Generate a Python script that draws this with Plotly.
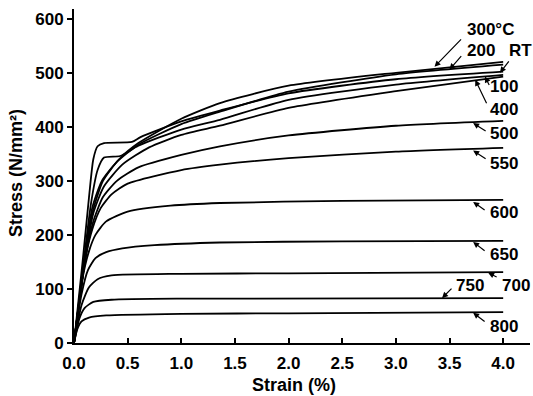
import plotly.graph_objects as go

# ---- data (strain %, stress N/mm^2) ----
labels = ["RT", "100", "200", "300°C", "400", "500", "550", "600", "650", "700", "750", "800"]

strain_RT = [0, 0.08, 0.14, 0.18, 0.22, 0.28, 0.54, 0.62, 1.0, 1.36, 2.0, 3.0, 4.0]
stress_RT = [0, 150, 270, 340, 364, 370, 372, 381, 410, 430, 462, 488, 502]

strain_100 = [0, 0.09, 0.16, 0.22, 0.28, 0.43, 0.6, 1.0, 1.36, 2.0, 3.0, 4.0]
stress_100 = [0, 150, 260, 320, 343, 346, 365, 395, 413, 450, 478, 496]

strain_200 = [0, 0.1, 0.17, 0.26, 0.4, 0.6, 1.0, 1.36, 2.0, 3.0, 4.0]
stress_200 = [0, 155, 250, 300, 335, 367, 405, 428, 465, 497, 515]

strain_300 = [0, 0.1, 0.17, 0.27, 0.42, 0.6, 1.0, 1.36, 2.0, 3.0, 4.0]
stress_300 = [0, 150, 240, 300, 340, 370, 415, 444, 476, 500, 520]

strain_400 = [0, 0.1, 0.18, 0.28, 0.45, 0.7, 1.0, 1.36, 2.0, 3.0, 4.0]
stress_400 = [0, 150, 240, 290, 330, 362, 385, 402, 435, 466, 493]

strain_500 = [0, 0.1, 0.18, 0.27, 0.4, 0.6, 1.0, 1.36, 2.0, 3.0, 4.0]
stress_500 = [0, 150, 225, 270, 300, 325, 348, 364, 384, 402, 411]

strain_550 = [0, 0.1, 0.17, 0.25, 0.35, 0.5, 1.0, 1.36, 2.0, 3.0, 4.0]
stress_550 = [0, 150, 210, 250, 275, 295, 320, 330, 342, 354, 361]

strain_600 = [0, 0.08, 0.14, 0.2, 0.3, 0.5, 0.9, 1.36, 2.5, 4.0]
stress_600 = [0, 120, 170, 200, 225, 243, 254, 259, 263, 265]

strain_650 = [0, 0.07, 0.13, 0.2, 0.3, 0.45, 0.75, 1.36, 2.5, 4.0]
stress_650 = [0, 90, 135, 157, 168, 175, 181, 186, 188, 189]

strain_700 = [0, 0.07, 0.14, 0.22, 0.35, 1.0, 2.0, 4.0]
stress_700 = [0, 70, 103, 118, 125, 128, 129, 131]

strain_750 = [0, 0.05, 0.1, 0.18, 0.35, 1.0, 4.0]
stress_750 = [0, 45, 65, 76, 80, 82, 83]

strain_800 = [0, 0.03, 0.07, 0.14, 0.3, 1.0, 2.0, 4.0]
stress_800 = [0, 25, 40, 47, 51, 54, 55, 57]

curves = [
    (strain_RT, stress_RT), (strain_100, stress_100), (strain_200, stress_200),
    (strain_300, stress_300), (strain_400, stress_400), (strain_500, stress_500),
    (strain_550, stress_550), (strain_600, stress_600), (strain_650, stress_650),
    (strain_700, stress_700), (strain_750, stress_750), (strain_800, stress_800),
]

# label annotation: arrow head (data), arrow tail offset (px), text position (data)
head_x = [3.97, 3.83, 3.50, 3.36, 3.74, 3.72, 3.72, 3.72, 3.72, 3.86, 3.43, 3.72]
head_y = [500, 493, 506, 511, 487, 407, 356, 261, 187, 130, 83, 56]
tail_dx = [10, 5, 13, 28, 12, 14, 14, 13, 13, 10, 11, 13]
tail_dy = [-13, 10, -15, -29, 25, 9, 9, 9, 10, 5, -11, 10]
text_x = [4.16, 4.01, 3.79, 3.886, 4.01, 4.01, 4.01, 4.01, 4.01, 4.12, 3.69, 4.01]
text_y = [541, 474, 541, 580, 432, 387, 333, 241, 163, 106, 106, 30]

x_ticks = [0, 0.5, 1.0, 1.5, 2.0, 2.5, 3.0, 3.5, 4.0]
y_ticks = [0, 100, 200, 300, 400, 500, 600]

FONT = "Liberation Sans"
TF = dict(family=FONT, size=17, color="black", weight="bold")

fig = go.Figure()
for (sx, sy), name in zip(curves, labels):
    fig.add_trace(go.Scatter(x=sx, y=sy, mode="lines", name=name,
                             line=dict(color="black", width=1.8, shape="spline", smoothing=0.6),
                             showlegend=False, hoverinfo="skip"))

annotations = []
for i, name in enumerate(labels):
    annotations.append(dict(x=head_x[i], y=head_y[i], xref="x", yref="y", text="",
                            showarrow=True, arrowhead=2, arrowsize=1, arrowwidth=1.2,
                            arrowcolor="black", ax=tail_dx[i], ay=tail_dy[i]))
    annotations.append(dict(x=text_x[i], y=text_y[i], xref="x", yref="y", text=name,
                            showarrow=False, xanchor="center", yanchor="middle",
                            borderpad=0, font=TF))

annotations.append(dict(x=(294 - 74) / 456, y=-(385 - 343) / 334, xref="paper", yref="paper",
                        text="Strain (%)", showarrow=False, xanchor="center", yanchor="middle",
                        font=dict(family=FONT, size=18, color="black", weight="bold")))
annotations.append(dict(x=-(74 - 16) / 456, y=(343 - 173) / 334, xref="paper", yref="paper",
                        text="Stress (N/mm²)", showarrow=False, textangle=-90,
                        xanchor="center", yanchor="middle",
                        font=dict(family=FONT, size=18, color="black", weight="bold")))

fig.update_layout(
    width=533, height=396,
    margin=dict(l=74, r=3, t=9, b=53),
    paper_bgcolor="white", plot_bgcolor="white",
    annotations=annotations,
    font=dict(family=FONT, size=17, color="black"),
)
fig.update_xaxes(range=[0, 4.25], tickvals=x_ticks, ticktext=[f"{v:.1f}" for v in x_ticks],
                 showline=True, linecolor="black", linewidth=2, ticks="inside", ticklen=5,
                 tickcolor="black", tickwidth=1.5, showgrid=False, zeroline=False,
                 ticklabelstandoff=4, tickfont=TF)
fig.update_yaxes(range=[0, 618], tickvals=y_ticks,
                 showline=True, linecolor="black", linewidth=2, ticks="outside", ticklen=5,
                 tickcolor="black", tickwidth=1.5, showgrid=False, zeroline=False,
                 tickfont=TF)

fig.write_html("out.html")
